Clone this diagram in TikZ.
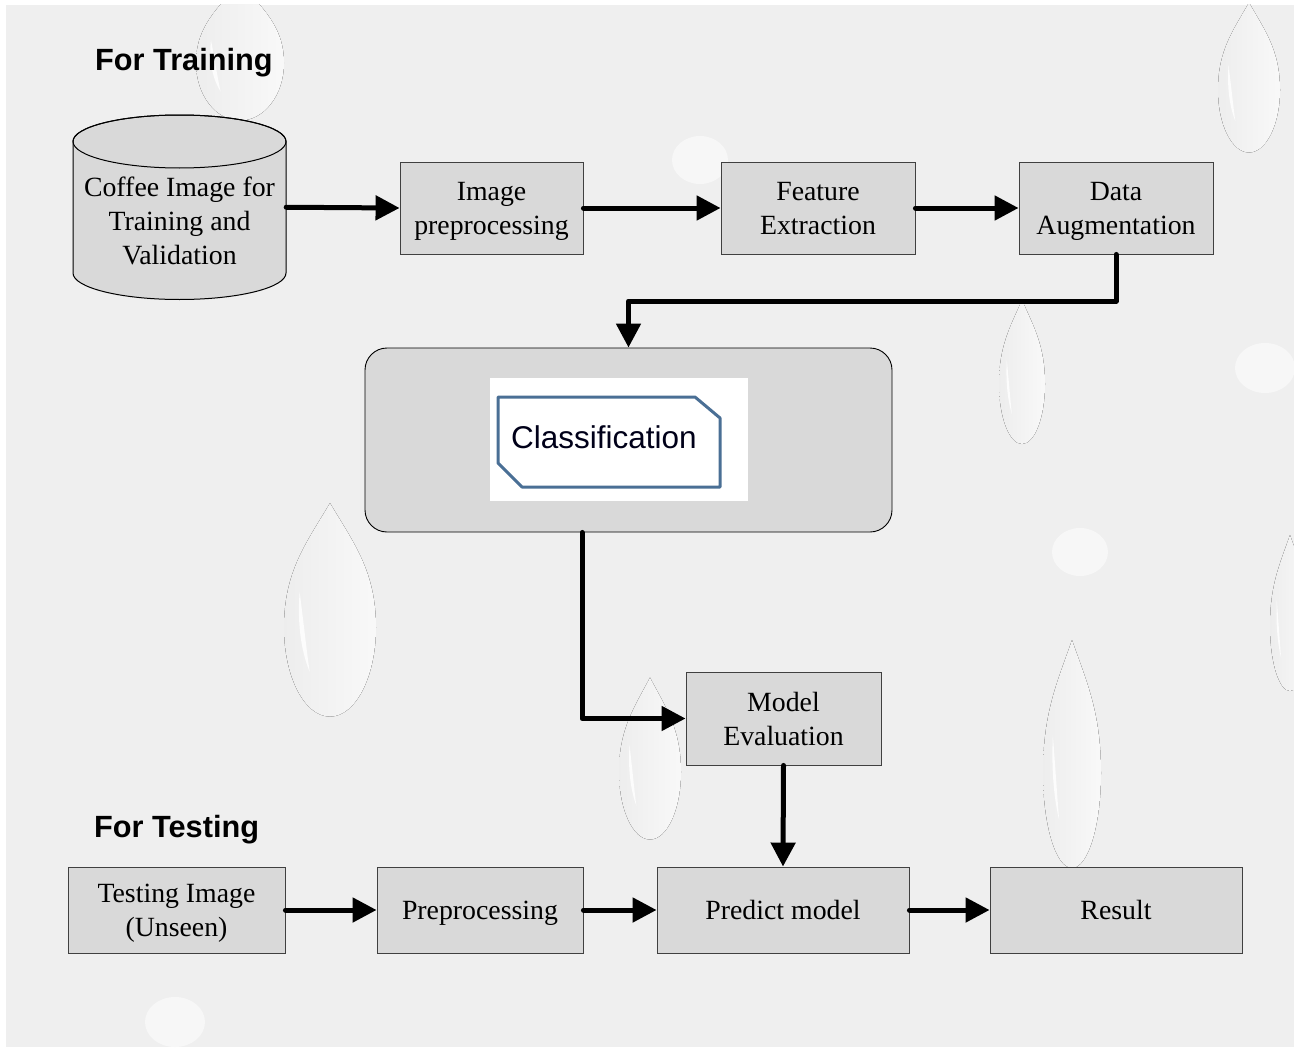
\documentclass[tikz,border=0pt]{standalone}
\usepackage{fontspec}
\setmainfont{Liberation Serif}
\newfontfamily\headfont{Liberation Sans}
\usetikzlibrary{arrows.meta}
\definecolor{bgc}{HTML}{EFEFEF}
\definecolor{boxc}{HTML}{D9D9D9}
\definecolor{edgec}{HTML}{404040}
\definecolor{octc}{HTML}{4A6F95}
\newcommand\tstrut{\rule[-7.2pt]{0pt}{34pt}}
\newcommand\wdrop[4]{%
  \begin{scope}[shift={(#1,#2)},xscale=#3,yscale=-#4]
    \fill[left color=black!7,right color=white!60!bgc] (0,0.5) .. controls (0.25,0.28) and (0.5,0.12) .. (0.5,-0.2) arc[start angle=0,end angle=-180,radius=0.5] .. controls (-0.5,0.12) and (-0.25,0.28) .. (0,0.5) -- cycle;
    \fill[white!80!bgc] (-0.33,0.0) .. controls (-0.28,-0.2) and (-0.25,-0.35) .. (-0.22,-0.45) .. controls (-0.3,-0.35) and (-0.36,-0.2) .. (-0.33,0.0) -- cycle;
  \end{scope}}
\tikzset{
  x=1pt, y=-1pt,
  procbox/.style={draw=edgec, line width=0.9pt, fill=boxc, inner sep=0pt, align=center,
    font=\fontsize{27.8}{34}\selectfont},
  flow/.style={line width=5pt, line cap=round, line join=round, -{Triangle[length=24pt,width=24pt]}},
  head/.style={font=\headfont\bfseries\fontsize{30.7}{34}\selectfont, anchor=west, inner sep=0pt}
}
\begin{document}
\begin{tikzpicture}
\useasboundingbox (0,0) rectangle (1294,1049);
\fill[white] (0,0) rectangle (1294,1049);
\fill[bgc] (6,5) rectangle (1294,1047);
\begin{scope}
  \clip (6,5) rectangle (1294,1047);
  \wdrop{240}{40}{88}{115}
  \wdrop{1249}{65}{62}{125}
  \wdrop{330}{592}{92}{178}
  \wdrop{1072}{735}{58}{190}
  \wdrop{650}{745}{62}{135}
  \wdrop{1022}{360}{46}{120}
  \wdrop{1290}{600}{40}{130}
  \fill[black!3] (175,1022) ellipse[x radius=30,y radius=25];
  \fill[black!3] (1080,552) ellipse[x radius=28,y radius=24];
  \fill[black!3] (1265,368) ellipse[x radius=30,y radius=25];
  \fill[black!3] (700,160) ellipse[x radius=28,y radius=24];
\end{scope}

% headings
\node[head] (htrain) at (95,63) {For Training};
\node[head] (htest) at (94,830) {For Testing};

% cylinder
\node[minimum width=213pt, minimum height=131.5pt, inner sep=0pt] (cyl) at (179.5,207.25) {};
\filldraw[fill=boxc, draw=black, line width=1pt] (73,141.5) -- (73,273) arc[start angle=180,end angle=0,x radius=106.5,y radius=26.5] -- (286,141.5) arc[start angle=0,end angle=-180,x radius=106.5,y radius=26.5] -- cycle;
\draw[line width=1pt] (179.5,141.5) ellipse[x radius=106.5,y radius=26.5];
\node[align=center, inner sep=0pt, font=\fontsize{27.8}{34}\selectfont] (cyltext) at (179.5,221) {Coffee Image for\tstrut\\Training and\tstrut\\Validation\tstrut};

% training row
\node[procbox, minimum width=183pt, minimum height=92pt] (prep) at (491.5,208) {Image\tstrut\\preprocessing\tstrut};
\node[procbox, minimum width=194pt, minimum height=92pt] (feat) at (818,208) {Feature\tstrut\\Extraction\tstrut};
\node[procbox, minimum width=194pt, minimum height=92pt] (aug) at (1116,208) {Data\tstrut\\Augmentation\tstrut};

% classification
\node[draw=black, line width=0.9pt, fill=boxc, rounded corners=22pt, minimum width=527pt, minimum height=184pt] (clsbox) at (628.5,440) {};
\node[fill=white, minimum width=258pt, minimum height=123pt, inner sep=0pt] (clsimg) at (619,439.5) {};
\draw[octc, line width=3pt, line join=round] (498,397) -- (695,397) -- (720,418) -- (720,487) -- (522,487) -- (498,463) -- cycle;
\node[font=\headfont\fontsize{31.5}{34}\selectfont, text=black!90!blue, inner sep=0pt] (clstext) at (604,437) {Classification};

% evaluation
\node[procbox, minimum width=195pt, minimum height=93pt] (eval) at (783.5,718.5) {Model\tstrut\\Evaluation\tstrut};

% testing row
\node[procbox, minimum width=217pt, minimum height=86pt] (test) at (176.5,910) {Testing Image\tstrut\\(Unseen)\tstrut};
\node[procbox, minimum width=206pt, minimum height=86pt] (tprep) at (480,910) {Preprocessing\tstrut};
\node[procbox, minimum width=252pt, minimum height=86pt] (pred) at (783,910) {Predict model\tstrut};
\node[procbox, minimum width=252pt, minimum height=86pt] (res) at (1116,910) {Result\tstrut};

% connectors
\draw[flow] (cyl.east) -- (prep.west);
\draw[flow] (prep.east) -- (feat.west);
\draw[flow] (feat.east) -- (aug.west);
\draw[flow] (aug.south) -- (aug.south |- 0,301) -| (clsbox.north);
\draw[flow] (clsbox.south -| 582,0) |- (eval.west);
\draw[flow] (eval.south) -- (pred.north);
\draw[flow] (test.east) -- (tprep.west);
\draw[flow] (tprep.east) -- (pred.west);
\draw[flow] (pred.east) -- (res.west);
\end{tikzpicture}
\end{document}
